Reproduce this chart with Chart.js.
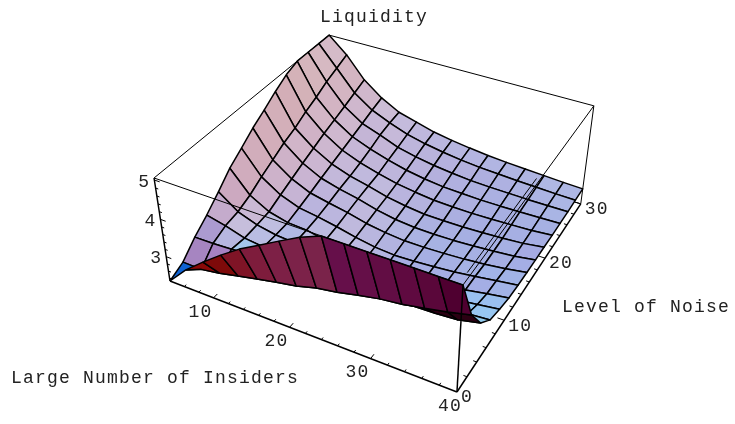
<!DOCTYPE html>
<html>
<head>
<meta charset="utf-8">
<title>Liquidity</title>
<script src="https://cdn.jsdelivr.net/npm/chart.js@4"></script>
<style>
  html, body { margin: 0; background: #fff; }
  canvas { display: block; }
</style>
</head>
<body>
<canvas id="surfaceChart" width="735" height="424"></canvas>
<script>
const insiders = [4, 6.57, 9.14, 11.71, 14.29, 16.86, 19.43, 22, 24.57, 27.14, 29.71, 32.29, 34.86, 37.43, 40];
const noise = [0, 2.14, 4.29, 6.43, 8.57, 10.71, 12.86, 15, 17.14, 19.29, 21.43, 23.57, 25.71, 27.86, 30];

// one row per noise level (5.05 = cut by the box top)
const liquidity = [
    [2.32, 2.83, 3.24, 3.62, 3.97, 4.26, 4.55, 4.83, 5.05, 5.05, 5.05, 5.05, 5.05, 5.05, 5.05],
    [2.49, 2.48, 2.57, 2.69, 2.81, 2.92, 3.02, 3.17, 3.26, 3.39, 3.50, 3.57, 3.68, 3.79, 3.93],
    [2.84, 2.85, 2.88, 2.91, 2.93, 2.96, 2.99, 3.02, 3.04, 3.07, 3.10, 3.13, 3.15, 3.19, 3.32],
    [3.12, 3.00, 2.84, 2.78, 2.73, 2.67, 2.65, 2.62, 2.65, 2.70, 2.76, 2.83, 2.88, 2.95, 3.00],
    [3.44, 3.06, 2.87, 2.77, 2.73, 2.65, 2.57, 2.48, 2.46, 2.51, 2.59, 2.66, 2.73, 2.81, 2.89],
    [3.78, 3.20, 2.91, 2.78, 2.75, 2.65, 2.54, 2.44, 2.39, 2.43, 2.48, 2.55, 2.62, 2.72, 2.81],
    [4.03, 3.40, 3.06, 2.87, 2.79, 2.69, 2.57, 2.48, 2.44, 2.46, 2.50, 2.55, 2.62, 2.70, 2.78],
    [4.29, 3.57, 3.20, 2.97, 2.86, 2.76, 2.63, 2.55, 2.50, 2.50, 2.52, 2.55, 2.60, 2.67, 2.76],
    [4.50, 3.75, 3.34, 3.08, 2.94, 2.83, 2.69, 2.59, 2.54, 2.53, 2.54, 2.57, 2.61, 2.66, 2.75],
    [4.73, 3.88, 3.47, 3.18, 3.00, 2.88, 2.74, 2.65, 2.59, 2.58, 2.58, 2.60, 2.63, 2.67, 2.75],
    [4.93, 4.06, 3.60, 3.28, 3.08, 2.93, 2.81, 2.73, 2.67, 2.65, 2.64, 2.65, 2.67, 2.69, 2.74],
    [5.05, 4.20, 3.71, 3.38, 3.18, 3.02, 2.89, 2.80, 2.74, 2.72, 2.70, 2.70, 2.71, 2.72, 2.74],
    [5.05, 4.37, 3.82, 3.48, 3.30, 3.10, 2.98, 2.89, 2.83, 2.78, 2.76, 2.75, 2.74, 2.74, 2.74],
    [5.05, 4.50, 3.94, 3.59, 3.37, 3.19, 3.07, 2.98, 2.91, 2.86, 2.83, 2.80, 2.78, 2.76, 2.75],
    [5.05, 4.63, 4.06, 3.68, 3.41, 3.27, 3.13, 3.04, 2.97, 2.91, 2.87, 2.84, 2.81, 2.78, 2.76]
];

const insiderTicks = [10, 20, 30, 40];
const noiseTicks = [0, 10, 20, 30];
const liquidityTicks = [3, 4, 5];
const insiderMinor = [6, 8, 12, 14, 16, 18, 22, 24, 26, 28, 32, 34, 36, 38];
const noiseMinor = [2, 4, 6, 8, 12, 14, 16, 18, 22, 24, 26, 28];
const liquidityMinor = [2.4, 2.6, 2.8, 3.2, 3.4, 3.6, 3.8, 4.2, 4.4, 4.6, 4.8];

// colour of the underside strip along the front, one per insider step
const undersideColors = ['#0f62d2', '#8a0808', '#7e0a0a', '#7f1426', '#7e1c3c', '#7d2046', '#7c2249', '#7a234a',
    '#660f4a', '#650f48', '#620d44', '#5f0a40', '#5a073a', '#4f0030'];
const sliverColor = '#2a0012';

const xRange = [4, 40];
const yRange = [0, 30];
const zRange = [2.32, 5.05];

// perspective camera fitted to the box corners of the picture
function project(x, y, z) {
    const u = (x - xRange[0]) / (xRange[1] - xRange[0]);
    const v = (y - yRange[0]) / (yRange[1] - yRange[0]);
    const w = (z - zRange[0]) / (zRange[1] - zRange[0]);
    const d = 1 - 0.1065 * u + 0.208 * v - 0.0691 * w;
    return {
        x: (170 + 238.3 * u + 231.4 * v - 26.6 * w) / d,
        y: (281 + 69.25 * u - 125.7 * v - 115.3 * w) / d
    };
}

function addLine(list, pts, width) {
    list.push({
        data: pts,
        showLine: true,
        borderColor: '#000',
        borderWidth: width,
        pointRadius: 0,
        fill: false,
        clip: false
    });
}

// Mathematica's three coloured lights, softened to match the picture
function shade(a, b, c, d) {
    const toView = p => {
        const u = (p[0] - xRange[0]) / (xRange[1] - xRange[0]);
        const v = (p[1] - yRange[0]) / (yRange[1] - yRange[0]);
        const w = (p[2] - zRange[0]) / (zRange[1] - zRange[0]);
        return [287 * u + 125 * v - 16 * w, -111 * u + 189 * v + 103 * w, 117 * u - 127 * v + 137 * w];
    };
    const A = toView(a), B = toView(b), C = toView(c), D = toView(d);
    const d1 = [C[0] - A[0], C[1] - A[1], C[2] - A[2]];
    const d2 = [D[0] - B[0], D[1] - B[1], D[2] - B[2]];
    let n = [d1[1] * d2[2] - d1[2] * d2[1], d1[2] * d2[0] - d1[0] * d2[2], d1[0] * d2[1] - d1[1] * d2[0]];
    const len = Math.hypot(n[0], n[1], n[2]) || 1;
    n = n.map(k => k / len);
    const r = Math.max(0.44, (n[0] + n[2]) / 1.414);
    const g = Math.max(0, (n[0] + n[1] + n[2]) / 1.732);
    const bl = Math.max(0, (n[1] + n[2]) / 1.414);
    const sky = 0.25 * Math.max(0, n[1] - 0.65);
    const ch = k => Math.min(255, Math.round(k * 255));
    return `rgb(${ch(0.50 + 0.34 * r - sky)},${ch(0.47 + 0.33 * g + sky)},${ch(0.62 + 0.28 * bl + sky)})`;
}

function buildDatasets() {
    const sets = [];
    const zLo = zRange[0], zHi = zRange[1];
    const xLo = xRange[0], xHi = xRange[1];
    const yLo = yRange[0], yHi = yRange[1];

    // back edges of the box
    addLine(sets, [project(xLo, yLo, zHi), project(xLo, yHi, zHi)], 1);
    addLine(sets, [project(xLo, yHi, zHi), project(xHi, yHi, zHi)], 1);
    addLine(sets, [project(xHi, yHi, zHi), project(xHi, yHi, zLo)], 1);
    addLine(sets, [project(xLo, yHi, zLo), project(xHi, yHi, zLo)], 1);
    addLine(sets, [project(xLo, yHi, zLo), project(xLo, yLo, zLo)], 1);
    addLine(sets, [project(xLo, yHi, zLo), project(xLo, yHi, zHi)], 1);

    // surface cells, far to near
    for (let j = noise.length - 2; j >= 0; j--) {
        for (let i = 0; i < insiders.length - 1; i++) {
            const a = [insiders[i], noise[j], liquidity[j][i]];
            const b = [insiders[i + 1], noise[j], liquidity[j][i + 1]];
            const c = [insiders[i + 1], noise[j + 1], liquidity[j + 1][i + 1]];
            const d = [insiders[i], noise[j + 1], liquidity[j + 1][i]];
            const pts = [a, b, c, d, a].map(p => project(p[0], p[1], p[2]));
            let color = shade(a, b, c, d);
            if (j === 0) color = undersideColors[i];
            if (j === 1 && i > 6) color = sliverColor;
            sets.push({
                data: pts,
                showLine: true,
                borderColor: '#000',
                borderWidth: 1.5,
                borderJoinStyle: 'round',
                backgroundColor: color,
                pointRadius: 0,
                fill: 'shape',
                clip: false
            });
        }
    }

    // front edges of the box and the axes
    addLine(sets, [project(xLo, yLo, zHi), project(xHi, yLo, zHi)], 1);
    addLine(sets, [project(xHi, yLo, zHi), project(xHi, yHi, zHi)], 1);
    addLine(sets, [project(39.6, 1.5, zHi), project(39.6, 16, zHi)], 1);
    addLine(sets, [project(xHi, yLo, zLo), project(xHi, yLo, zHi)], 1.5);
    addLine(sets, [project(xLo, yLo, zLo), project(xHi, yLo, zLo)], 1.5);
    addLine(sets, [project(xHi, yLo, zLo), project(xHi, yHi, zLo)], 1.5);
    addLine(sets, [project(xLo, yLo, zLo), project(xLo, yLo, zHi)], 1.5);

    // tick marks
    insiderTicks.filter(t => t < xHi).forEach(t => addLine(sets, [project(t, yLo, zLo), project(t, yLo + 0.6, zLo)], 1));
    insiderMinor.forEach(t => addLine(sets, [project(t, yLo, zLo), project(t, yLo + 0.3, zLo)], 1));
    noiseTicks.filter(t => t > yLo).forEach(t => addLine(sets, [project(xHi, t, zLo), project(xHi - 0.8, t, zLo)], 1));
    noiseMinor.forEach(t => addLine(sets, [project(xHi, t, zLo), project(xHi - 0.4, t, zLo)], 1));
    liquidityTicks.forEach(t => addLine(sets, [project(xLo, yLo, t), project(xLo + 0.7, yLo, t)], 1));
    liquidityMinor.forEach(t => addLine(sets, [project(xLo, yLo, t), project(xLo + 0.35, yLo, t)], 1));

    // Chart.js paints the first dataset last
    return sets.reverse();
}

const labelPlugin = {
    id: 'labels',
    afterDraw(chart) {
        const { ctx, scales } = chart;
        const put = (text, px, py, align) => {
            ctx.textAlign = align;
            ctx.fillText(text, px, py);
        };
        const at = (p, dx, dy) => [scales.x.getPixelForValue(p.x) + dx, scales.y.getPixelForValue(p.y) + dy];
        ctx.save();
        ctx.fillStyle = '#222';
        ctx.textBaseline = 'middle';
        ctx.font = '18px "Liberation Mono"';
        ctx.letterSpacing = '1.2px';
        insiderTicks.forEach(t => {
            const [px, py] = at(project(t, yRange[0], zRange[0]), t === 40 ? -7 : -13, 14);
            put(String(t), px, py, 'center');
        });
        noiseTicks.forEach(t => {
            const [px, py] = at(project(xRange[1], t, zRange[0]), t === 0 ? 10 : 16, 5.5);
            put(String(t), px, py, 'center');
        });
        liquidityTicks.forEach(t => {
            const [px, py] = at(project(xRange[0], yRange[0], t), -10, 2);
            put(String(t), px, py, 'center');
        });
        put('Liquidity', 374, 17, 'center');
        put('Level of Noise', 562, 307, 'left');
        put('Large Number of Insiders', 11, 378, 'left');
        ctx.restore();
    }
};

new Chart(document.getElementById('surfaceChart'), {
    type: 'scatter',
    data: { datasets: buildDatasets() },
    options: {
        responsive: false,
        animation: false,
        layout: { padding: 0 },
        plugins: { legend: { display: false }, tooltip: { enabled: false } },
        scales: {
            x: { type: 'linear', display: false, min: 0, max: 735 },
            y: { type: 'linear', display: false, min: 0, max: 424, reverse: true }
        }
    },
    plugins: [labelPlugin]
});
</script>
</body>
</html>
